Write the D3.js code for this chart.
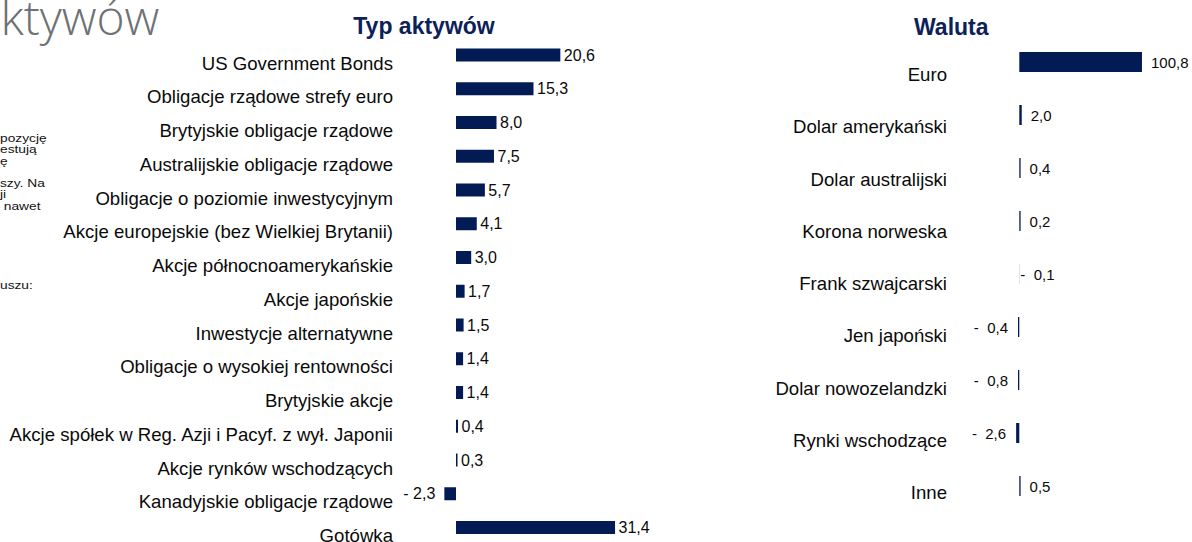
<!DOCTYPE html>
<html>
<head>
<meta charset="utf-8">
<script src="https://cdn.jsdelivr.net/npm/d3@7"></script>
<style>
  html, body { margin: 0; padding: 0; background: #fff; }
  svg { display: block; }
  text { font-family: "Liberation Sans", Arial, sans-serif; }
</style>
</head>
<body>
<svg id="chart" width="1192" height="542"></svg>
<script>
// ---- data ----
const assetCategories = [
  "US Government Bonds",
  "Obligacje rządowe strefy euro",
  "Brytyjskie obligacje rządowe",
  "Australijskie obligacje rządowe",
  "Obligacje o poziomie inwestycyjnym",
  "Akcje europejskie (bez Wielkiej Brytanii)",
  "Akcje północnoamerykańskie",
  "Akcje japońskie",
  "Inwestycje alternatywne",
  "Obligacje o wysokiej rentowności",
  "Brytyjskie akcje",
  "Akcje spółek w Reg. Azji i Pacyf. z wył. Japonii",
  "Akcje rynków wschodzących",
  "Kanadyjskie obligacje rządowe",
  "Gotówka"
];
const assetValues = [20.6, 15.3, 8.0, 7.5, 5.7, 4.1, 3.0, 1.7, 1.5, 1.4, 1.4, 0.4, 0.3, -2.3, 31.4];

const currencyCategories = [
  "Euro",
  "Dolar amerykański",
  "Dolar australijski",
  "Korona norweska",
  "Frank szwajcarski",
  "Jen japoński",
  "Dolar nowozelandzki",
  "Rynki wschodzące",
  "Inne"
];
const currencyValues = [100.8, 2.0, 0.4, 0.2, -0.1, -0.4, -0.8, -2.6, 0.5];

const panelTitles = ["Typ aktywów", "Waluta"];
const pageTitleFragment = "aktywów";
const sideTextFragments = ["pozycję", "estują", "ę", "", "szy. Na", "ji", " nawet", "", "", "", "", "", "", "uszu:"];

// ---- styles ----
const NAVY = "#031b55";
const TITLE_NAVY = "#0d2159";
const fmt = v => {
  const s = Math.abs(v).toFixed(1).replace(".", ",");
  return v < 0 ? "- " + s : s;
};

const svg = d3.select("#chart");

// Page title fragment (cut at left)
svg.append("text")
  .attr("x", -25).attr("y", 35)
  .style("font-family", "'Open Sans', sans-serif")
  .style("font-weight", 300)
  .style("font-size", "48px")
  .attr("fill", "#6e7275")
  .text(pageTitleFragment);

// Side text fragments (cut at left)
const sideY = d3.scaleLinear().domain([0, 1]).range([142, 153.3]);
svg.append("g")
  .attr("transform", "scale(1.25,1)")
  .selectAll("text")
  .data(sideTextFragments)
  .join("text")
  .attr("x", 0)
  .attr("y", (d, i) => sideY(i))
  .attr("xml:space", "preserve")
  .style("font-size", "11px")
  .attr("fill", "#111")
  .text(d => d);

// ---- Panel 1: asset type ----
const x1 = d3.scaleLinear().domain([0, 10]).range([456, 506.65]);
const y1 = d3.scalePoint().domain(assetCategories).range([55, 527.5]);
const bh1 = 13;

svg.append("text")
  .attr("x", 424).attr("y", 34.3)
  .attr("text-anchor", "middle")
  .style("font-size", "23px").style("font-weight", "bold")
  .attr("fill", TITLE_NAVY)
  .text(panelTitles[0]);

const g1 = svg.append("g");
g1.selectAll("text.cat")
  .data(assetCategories)
  .join("text")
  .attr("class", "cat")
  .attr("x", 393)
  .attr("y", d => y1(d) + 14.5)
  .attr("text-anchor", "end")
  .style("font-size", "18.6px")
  .attr("fill", "#0a0a0a")
  .text(d => d);

g1.selectAll("rect")
  .data(assetValues)
  .join("rect")
  .attr("x", d => Math.min(x1(0), x1(d)))
  .attr("y", (d, i) => y1(assetCategories[i]) - bh1 / 2)
  .attr("width", d => Math.abs(x1(d) - x1(0)))
  .attr("height", bh1)
  .attr("fill", NAVY);

g1.selectAll("text.val")
  .data(assetValues)
  .join("text")
  .attr("class", "val")
  .attr("x", d => d >= 0 ? x1(d) + 3.5 : x1(d) - 9)
  .attr("y", (d, i) => y1(assetCategories[i]))
  .attr("dy", "0.35em")
  .attr("text-anchor", d => d >= 0 ? "start" : "end")
  .attr("xml:space", "preserve")
  .style("font-size", "16px")
  .attr("fill", "#0a0a0a")
  .text(fmt);

// ---- Panel 2: currency ----
const x2 = d3.scaleLinear().domain([0, 100]).range([1019.3, 1141.0]);
const y2 = d3.scalePoint().domain(currencyCategories).range([62, 486]);
const yl2 = d3.scalePoint().domain(currencyCategories).range([81, 499]);
const bh2 = 20;

svg.append("text")
  .attr("x", 951.3).attr("y", 35)
  .attr("text-anchor", "middle")
  .style("font-size", "23px").style("font-weight", "bold")
  .attr("fill", TITLE_NAVY)
  .text(panelTitles[1]);

const g2 = svg.append("g");
g2.selectAll("text.cat")
  .data(currencyCategories)
  .join("text")
  .attr("class", "cat")
  .attr("x", 947)
  .attr("y", d => yl2(d))
  .attr("text-anchor", "end")
  .style("font-size", "18.6px")
  .attr("fill", "#0a0a0a")
  .text(d => d);

const w2 = d => {
  const w = Math.abs(x2(d) - x2(0));
  return Math.abs(d) >= 0.2 ? Math.max(w, 1.3) : w;
};
g2.selectAll("rect")
  .data(currencyValues)
  .join("rect")
  .attr("x", d => d >= 0 ? x2(0) : x2(0) - w2(d))
  .attr("y", (d, i) => y2(currencyCategories[i]) - bh2 / 2)
  .attr("width", w2)
  .attr("height", bh2)
  .attr("fill", NAVY);

g2.selectAll("text.val")
  .data(currencyValues)
  .join("text")
  .attr("class", "val")
  .attr("x", d => d >= 0 ? x2(0) + w2(d) + 9 : (w2(d) < 1 ? x2(0) + 1 : x2(0) - w2(d) - 10))
  .attr("y", (d, i) => y2(currencyCategories[i]) + 1)
  .attr("dy", "0.35em")
  .attr("text-anchor", d => (d >= 0 || w2(d) < 1) ? "start" : "end")
  .attr("xml:space", "preserve")
  .style("font-size", "15px")
  .attr("fill", "#0a0a0a")
  .text(d => d < 0 ? fmt(d).replace("- ", "-  ") : fmt(d));
</script>
</body>
</html>
